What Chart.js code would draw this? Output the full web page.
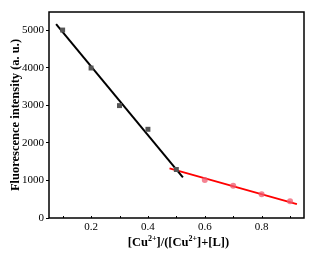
<!DOCTYPE html>
<html>
<head>
<meta charset="utf-8">
<script src="https://cdn.jsdelivr.net/npm/chart.js@4/dist/chart.umd.min.js"></script>
<style>
  html, body { margin: 0; padding: 0; background: #fff; }
  #wrap { width: 326px; height: 254px; }
</style>
</head>
<body>
<div id="wrap"><canvas id="fl"></canvas></div>
<script>
(() => {
  // measured points
  const blackX = [0.1, 0.2, 0.3, 0.4, 0.5];
  const blackY = [5000, 3990, 2990, 2360, 1290];
  const redX = [0.6, 0.7, 0.8, 0.9];
  const redY = [1010, 860, 630, 445];
  // fitted lines (end points)
  const fitBlackX = [0.077, 0.523];
  const fitBlackY = [5160, 1080];
  const fitRedX = [0.476, 0.924];
  const fitRedY = [1320, 370];
  const xTicks = [0.2, 0.4, 0.6, 0.8];
  const yTicks = [0, 1000, 2000, 3000, 4000, 5000];

  const pts = (xs, ys) => xs.map((x, i) => ({ x, y: ys[i] }));
  const serif = '"Liberation Serif", "DejaVu Serif", serif';

  const frame = {
    id: 'frame',
    afterDraw(c) {
      const { ctx, chartArea: a, scales } = c;
      ctx.save();
      ctx.strokeStyle = '#000';
      ctx.lineWidth = 1.5;
      ctx.strokeRect(a.left, a.top, a.right - a.left, a.bottom - a.top);
      // small inward ticks on x axis
      ctx.lineWidth = 1;
      for (let v = 0.1; v < 0.95; v += 0.1) {
        const px = Math.round(scales.x.getPixelForValue(v)) + 0.5;
        ctx.beginPath();
        ctx.moveTo(px, a.bottom);
        ctx.lineTo(px, a.bottom - 2);
        ctx.stroke();
      }
      // x title with superscripts
      const parts = [
        ['[Cu', false], ['2+', true], [']/([Cu', false], ['2+', true], [']+[L])', false]
      ];
      const big = 'bold 12.5px ' + serif, small = 'bold 8px ' + serif;
      let w = 0;
      parts.forEach(([t, s]) => { ctx.font = s ? small : big; w += ctx.measureText(t).width; });
      let x = (a.left + a.right) / 2 - w / 2 + 2;
      const y = 246;
      ctx.fillStyle = '#000';
      ctx.textBaseline = 'alphabetic';
      parts.forEach(([t, s]) => {
        ctx.font = s ? small : big;
        ctx.fillText(t, x, s ? y - 5 : y);
        x += ctx.measureText(t).width;
      });
      ctx.restore();
    }
  };

  new Chart(document.getElementById('fl'), {
    type: 'scatter',
    data: {
      datasets: [
        { data: pts(blackX, blackY), pointStyle: 'rect', pointRadius: 3.5, backgroundColor: '#555', borderColor: '#555', borderWidth: 0 },
        { data: pts(redX, redY), pointStyle: 'circle', pointRadius: 3, backgroundColor: 'rgba(240,90,110,0.75)', borderWidth: 0 },
        { data: pts(fitBlackX, fitBlackY), showLine: true, pointRadius: 0, borderColor: '#000', borderWidth: 2 },
        { data: pts(fitRedX, fitRedY), showLine: true, pointRadius: 0, borderColor: '#f00', borderWidth: 2 }
      ]
    },
    options: {
      responsive: true,
      maintainAspectRatio: false,
      animation: false,
      layout: { padding: { top: 12, right: 22, left: 0, bottom: 0 } },
      plugins: { legend: { display: false }, tooltip: { enabled: false } },
      scales: {
        x: {
          type: 'linear', min: 0.052, max: 0.949,
          afterBuildTicks: s => { s.ticks = xTicks.map(v => ({ value: v })); },
          afterFit: s => { s.height = 36; },
          grid: { display: false, drawTicks: false },
          border: { display: false },
          ticks: { color: '#000', font: { family: serif, size: 11 }, padding: 3, maxRotation: 0,
            autoSkip: false, callback: v => v.toFixed(1) }
        },
        y: {
          min: 0, max: 5480,
          afterBuildTicks: s => { s.ticks = yTicks.map(v => ({ value: v })); },
          afterFit: s => { s.width = 49; },
          grid: { drawOnChartArea: false, tickLength: 3, color: '#000', tickWidth: 1 },
          border: { display: false },
          title: { display: true, text: 'Fluorescence intensity (a. u.)', color: '#000',
            font: { family: serif, size: 12.5, weight: 'bold' }, padding: { top: 8, bottom: 0 } },
          ticks: { color: '#000', font: { family: serif, size: 11 }, padding: 2, autoSkip: false,
            callback: v => String(v) }
        }
      }
    },
    plugins: [frame]
  });
})();
</script>
</body>
</html>
